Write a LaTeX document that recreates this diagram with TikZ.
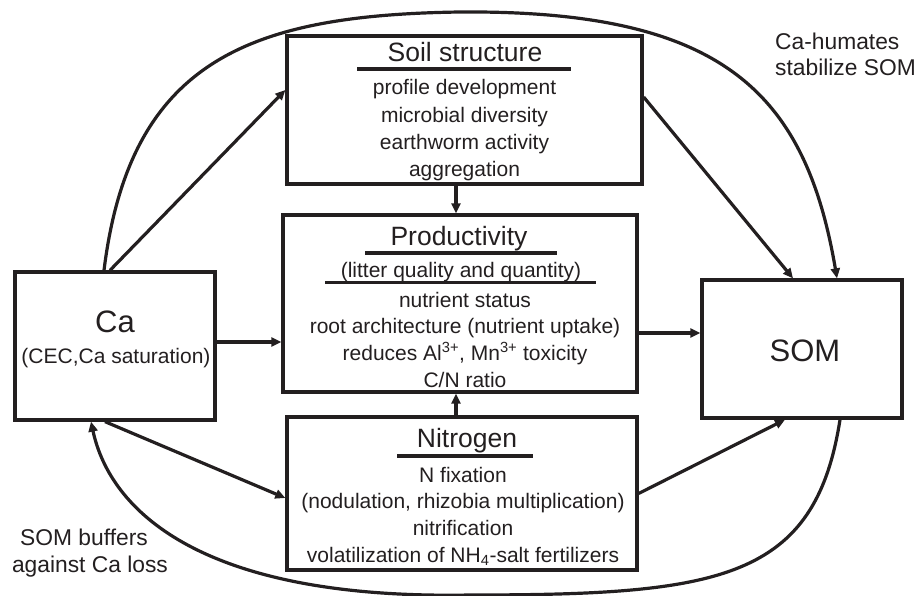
\documentclass[tikz,border=0pt]{standalone}
\usepackage{fontspec}
\setmainfont{Liberation Sans}
\usepackage{xcolor}
\usepackage{tikz}
\usetikzlibrary{calc}
\usetikzlibrary{arrows.meta}
\definecolor{ink}{HTML}{231F20}
\def\bodysize{\fontsize{21}{27}\selectfont}
\def\titlesize{\fontsize{26.5}{30}\selectfont}

\begin{document}
\begin{tikzpicture}[x=1pt,y=-1pt,line join=miter,
	box/.style={draw=ink,line width=3.3pt,inner sep=0pt},
	conn/.style={draw=ink,line width=3.2pt,-{Triangle[length=10pt,width=9pt]}},
	curve/.style={draw=ink,line width=3.2pt},
	title/.style={anchor=base,text=ink,font=\titlesize,inner sep=0pt},
	body/.style={anchor=base,text=ink,font=\bodysize,inner sep=0pt},
	note/.style={anchor=base,text=ink,font=\fontsize{22.8}{26}\selectfont,inner sep=0pt}]
	\useasboundingbox (0,0) rectangle (918,596);
	% boxes
	\node[box,minimum width=200pt,minimum height=148pt] (ca) at (115,346) {};
	\node[box,minimum width=355pt,minimum height=148pt] (soil) at (464.5,110) {};
	\node[box,minimum width=354pt,minimum height=177pt] (prod) at (460,303.5) {};
	\node[box,minimum width=350pt,minimum height=153pt] (nitro) at (462,493.5) {};
	\node[box,minimum width=200pt,minimum height=138pt] (som) at (802,349) {};
	% Ca
	\node[anchor=base,text=ink,font=\fontsize{31}{34}\selectfont,inner sep=0pt] (cat) at (115,332) {Ca};
	\node[body] (cab) at (116,363) {(CEC,Ca saturation)};
	% SOM
	\node[anchor=base,text=ink,font=\fontsize{31}{34}\selectfont,inner sep=0pt] (somt) at (805,361) {SOM};
	% soil structure
	\node[title] (soilt) at (465,62) {Soil structure};
	\draw[ink,line width=3.3pt] (357,69) -- (571,69);
	\foreach \t [count=\i] in {profile development,microbial diversity,earthworm activity,aggregation}
		\node[body] (s\i) at (464.5,{95+27.3*(\i-1)}) {\t};
	% productivity
	\node[title] (prodt) at (459,245) {Productivity};
	\draw[ink,line width=3.3pt] (365,253) -- (557,253);
	\node[body] (p0) at (461,277) {(litter quality and quantity)};
	\draw[ink,line width=2.8pt] (325,282.5) -- (596,282.5);
	\foreach \t [count=\i] in {nutrient status,root architecture (nutrient uptake),{reduces Al\textsuperscript{3+}, Mn\textsuperscript{3+} toxicity},C/N ratio}
		\node[body] (p\i) at (465,{307+26.7*(\i-1)}) {\t};
	% nitrogen
	\node[title] (nitrot) at (467,447) {Nitrogen};
	\draw[ink,line width=3.3pt] (397,456) -- (533,456);
	\foreach \t [count=\i] in {N fixation,{(nodulation, rhizobia multiplication)},nitrification,volatilization of NH\textsubscript{4}-salt fertilizers}
		\node[body] (n\i) at (463,{482+26.7*(\i-1)}) {\t};
	% notes
	\node[note,anchor=base west] (hum1) at (775,50) {Ca-humates};
	\node[note,anchor=base west] (hum2) at (775,76) {stabilize SOM};
	\node[note] (buf1) at (84,545) {SOM buffers};
	\node[note] (buf2) at (90,572) {against Ca loss};
	% connectors
	\draw[conn] ($(ca.north)+(-5,0)$) -- ($(soil.west)+(0,-20)$);
	\draw[conn] ($(ca.east)+(0,-4)$) coordinate (c1) -- (c1 -| prod.west);
	\draw[conn] ($(ca.south)+(-10,0)$) -- ($(nitro.west)+(0,4.5)$);
	\draw[conn] ($(soil.south)+(-8.5,0)$) coordinate (c2) -- (c2 |- prod.north);
	\draw[conn] ($(nitro.north)+(-6,0)$) coordinate (c3) -- (c3 |- prod.south);
	\draw[conn] ($(soil.east)+(0,-13)$) -- ($(som.north)+(-9,0)$);
	\draw[conn] ($(prod.east)+(0,29.5)$) coordinate (c4) -- (c4 -| som.west);
	\draw[conn] (nitro.east) -- ($(som.south)+(-17,0)$);
	\draw[curve,-{Triangle[length=10pt,width=9pt]}] ($(ca.north)+(-11,0)$) .. controls (130,60) and (250,15) .. (460,12)
		.. controls (720,10) and (805,90) .. ($(som.north)+(35,0)$);
	\draw[curve,-{Triangle[length=10pt,width=9pt]}] ($(som.south)+(38,0)$) .. controls (815,580) and (720,595) .. (470,595)
		.. controls (200,600) and (110,510) .. ($(ca.south)+(-24,0)$);
\end{tikzpicture}
\end{document}
